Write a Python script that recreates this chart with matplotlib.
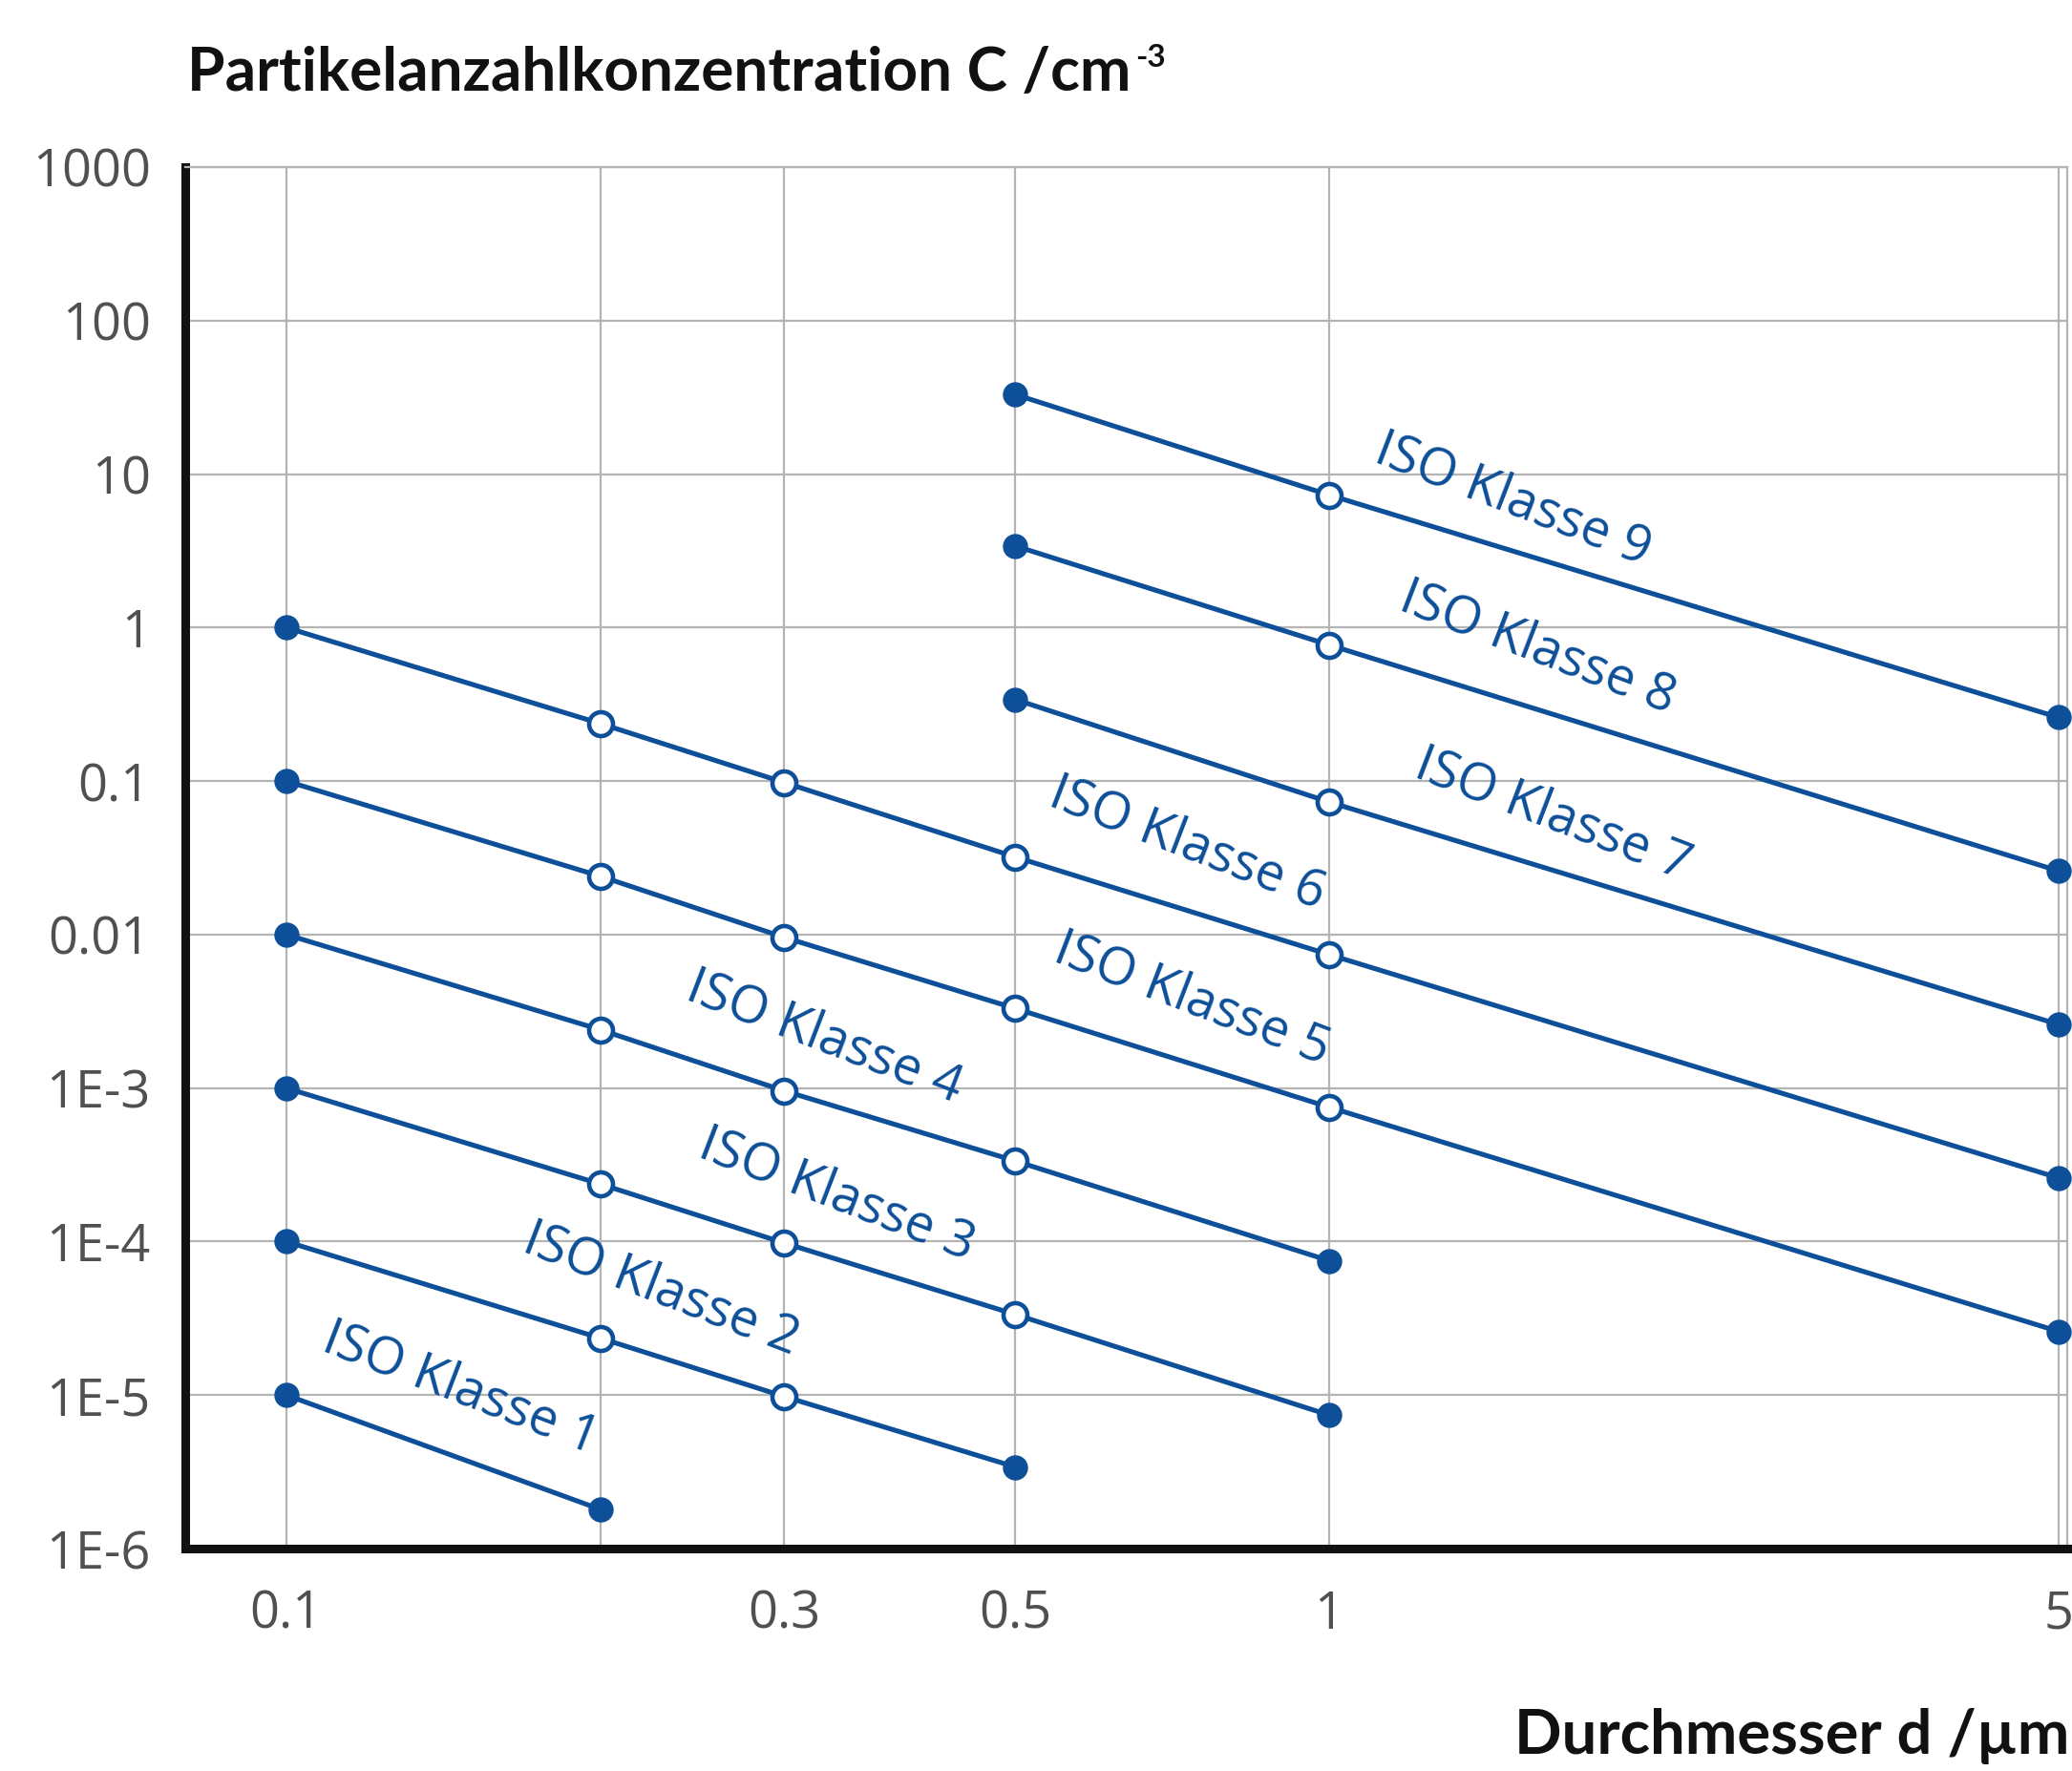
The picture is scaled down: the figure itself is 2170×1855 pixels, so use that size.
import matplotlib
matplotlib.use("Agg")
import matplotlib.pyplot as plt
from matplotlib.ticker import FixedLocator, NullLocator
from matplotlib.text import Annotation

plt.rcParams['font.family'] = ['Open Sans', 'DejaVu Sans']

# ---- data (particles per cm^3) ----
diameters = [0.1, 0.2, 0.3, 0.5, 1.0, 5.0]
class_names = ["ISO Klasse 1", "ISO Klasse 2", "ISO Klasse 3", "ISO Klasse 4", "ISO Klasse 5",
               "ISO Klasse 6", "ISO Klasse 7", "ISO Klasse 8", "ISO Klasse 9"]
k1_x = [0.1, 0.2]
k1_y = [1.0e-5, 1.8e-6]
k2_x = [0.1, 0.2, 0.3, 0.5]
k2_y = [1.0e-4, 2.35e-5, 9.8e-6, 3.4e-6]
k3_x = [0.1, 0.2, 0.3, 0.5, 1.0]
k3_y = [1.0e-3, 2.37e-4, 9.8e-5, 3.35e-5, 7.4e-6]
k4_x = [0.1, 0.2, 0.3, 0.5, 1.0]
k4_y = [1.0e-2, 2.4e-3, 9.6e-4, 3.35e-4, 7.5e-5]
k5_x = [0.1, 0.2, 0.3, 0.5, 1.0, 5.0]
k5_y = [1.0e-1, 2.4e-2, 9.6e-3, 3.3e-3, 7.5e-4, 2.6e-5]
k6_x = [0.1, 0.2, 0.3, 0.5, 1.0, 5.0]
k6_y = [1.0, 0.237, 0.098, 0.032, 7.4e-3, 2.6e-4]
k7_x = [0.5, 1.0, 5.0]
k7_y = [0.34, 0.073, 2.6e-3]
k8_x = [0.5, 1.0, 5.0]
k8_y = [3.4, 0.77, 2.6e-2]
k9_x = [0.5, 1.0, 5.0]
k9_y = [33.0, 7.3, 0.26]

xs = [k1_x, k2_x, k3_x, k4_x, k5_x, k6_x, k7_x, k8_x, k9_x]
ys = [k1_y, k2_y, k3_y, k4_y, k5_y, k6_y, k7_y, k8_y, k9_y]

x_grid_vals = [0.1, 0.2, 0.3, 0.5, 1, 5]
x_grid_labels = ["0.1", "", "0.3", "0.5", "1", "5"]
y_tick_vals = [1e-6, 1e-5, 1e-4, 1e-3, 1e-2, 1e-1, 1, 10, 100, 1000]
y_tick_labels = ["1E-6", "1E-5", "1E-4", "1E-3", "0.01", "0.1", "1", "10", "100", "1000"]

# label anchor positions (data coords)
label_pos = [(0.147, 1.1e-5), (0.229, 4.9e-5), (0.337, 2.0e-4), (0.328, 2.15e-3),
             (0.738, 3.8e-3), (0.731, 3.9e-2), (1.64, 6.0e-2), (1.585, 0.735), (1.50, 6.8)]

BLUE = "#0d4f98"
GRID = "#b4b4b4"
W, H = 2170, 1855

fig = plt.figure(figsize=(W / 100, H / 100), dpi=100)
ax = fig.add_axes([194 / W, 1 - 1622 / H, (2165 - 194) / W, (1622 - 175) / H])
ax.set_xscale('log')
ax.set_yscale('log')
ax.set_xlim(0.08, 5.1)
ax.set_ylim(1e-6, 1000)

ax.xaxis.set_major_locator(FixedLocator(x_grid_vals))
ax.xaxis.set_minor_locator(NullLocator())
ax.yaxis.set_major_locator(FixedLocator(y_tick_vals))
ax.yaxis.set_minor_locator(NullLocator())
ax.set_xticklabels(x_grid_labels)
ax.set_yticklabels(y_tick_labels)
ax.grid(True, color=GRID, linewidth=1.6, zorder=0)
ax.set_axisbelow(True)
ax.tick_params(axis='both', length=0, labelcolor="#505050", labelsize=39)
ax.tick_params(axis='y', pad=26)
ax.tick_params(axis='x', pad=30)

for s in ['left', 'bottom']:
    ax.spines[s].set_color('#111111')
    ax.spines[s].set_linewidth(6.5)
for s in ['top', 'right']:
    ax.spines[s].set_color(GRID)
    ax.spines[s].set_linewidth(1.6)

for i, (x, y) in enumerate(zip(xs, ys)):
    ax.plot(x, y, color=BLUE, linewidth=3.7, zorder=3, clip_on=False)
    # endpoints filled, inner points hollow
    ax.plot([x[0], x[-1]], [y[0], y[-1]], 'o', color=BLUE, markersize=18, zorder=4, clip_on=False)
    if len(x) > 2:
        ax.plot(x[1:-1], y[1:-1], 'o', markerfacecolor='white', markeredgecolor=BLUE,
                markeredgewidth=3.3, markersize=18, zorder=4, clip_on=False)
    lx, ly = label_pos[i]
    ax.text(lx, ly, class_names[i], color=BLUE, fontsize=39,
            rotation=-21, rotation_mode='anchor', ha='center', va='center', zorder=5)

title = fig.text(196 / W, 1 - 76 / H, "Partikelanzahlkonzentration C /cm", ha='left', va='center',
                 fontsize=46, fontweight='bold', color='#111111', family=['Lato', 'DejaVu Sans'])
sup = Annotation("-3", xy=(1.0, 0.78), xycoords=title, xytext=(3, 0), textcoords='offset points',
                 ha='left', va='center', fontsize=24, fontweight='bold', color='#111111',
                 family=['Lato', 'DejaVu Sans'])
fig.add_artist(sup)
fig.text(0.999, 1 - 1818 / H, "Durchmesser d /µm", ha='right', va='center',
         fontsize=47, fontweight='bold', color='#111111', family=['Lato', 'DejaVu Sans'])

fig.savefig("out.png", dpi=100)
